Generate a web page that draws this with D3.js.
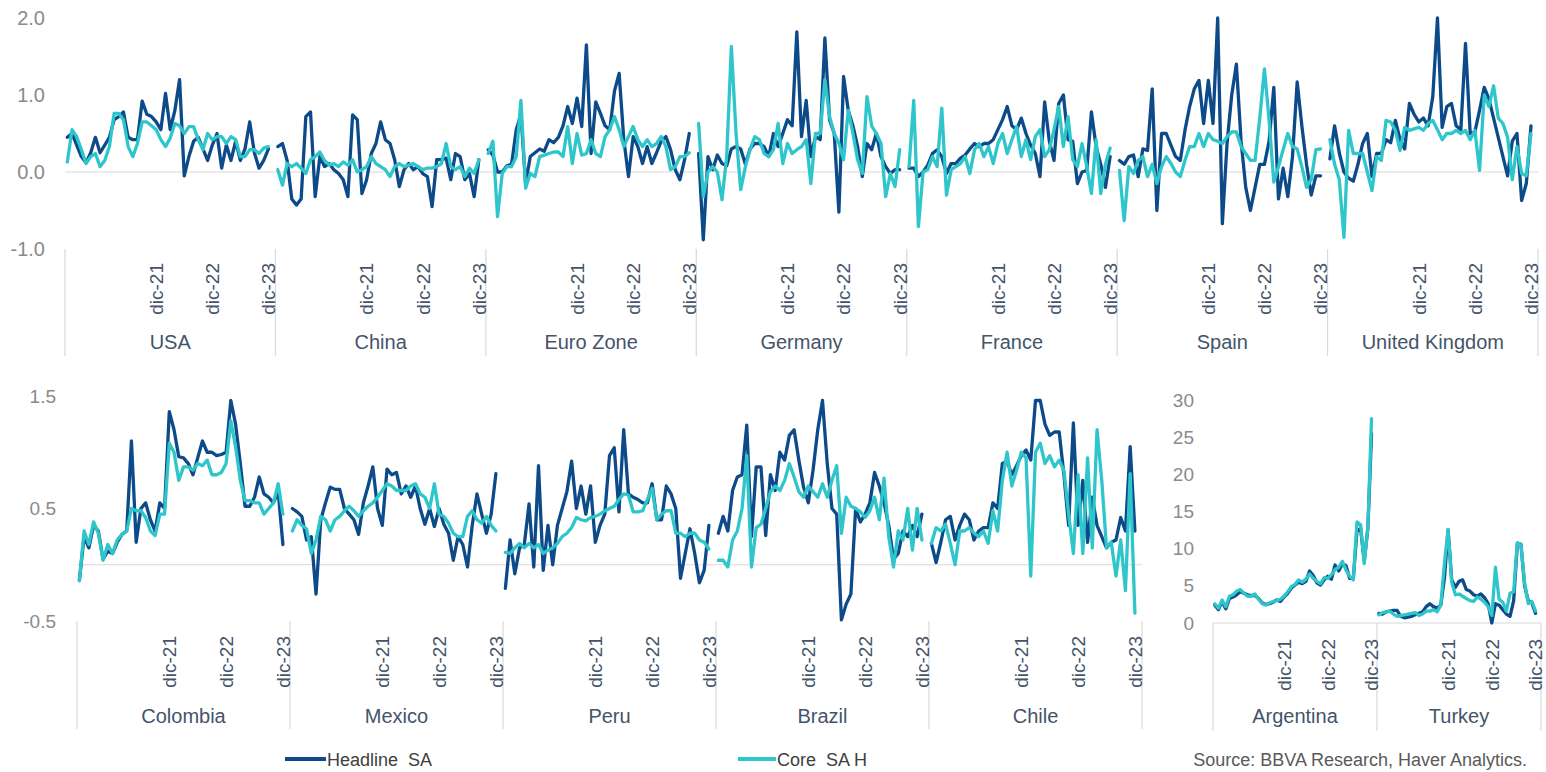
<!DOCTYPE html>
<html><head><meta charset="utf-8">
<script src="https://cdn.jsdelivr.net/npm/d3@7"></script>
<style>html,body{margin:0;padding:0;background:#fff;} svg{display:block;font-family:"Liberation Sans",Arial,Helvetica,sans-serif;}</style>
</head><body><svg id="chart" width="1546" height="772"></svg>
<script>
// ---------- DATA ----------
const months = ["may-20","jun-20","jul-20","ago-20","sep-20","oct-20","nov-20","dic-20",
 "ene-21","feb-21","mar-21","abr-21","may-21","jun-21","jul-21","ago-21","sep-21","oct-21","nov-21","dic-21",
 "ene-22","feb-22","mar-22","abr-22","may-22","jun-22","jul-22","ago-22","sep-22","oct-22","nov-22","dic-22",
 "ene-23","feb-23","mar-23","abr-23","may-23","jun-23","jul-23","ago-23","sep-23","oct-23","nov-23","dic-23"];
const shownTicks = ["dic-21","dic-22","dic-23"];

const topCountries = ["USA","China","Euro Zone","Germany","France","Spain","United Kingdom"];
const latamCountries = ["Colombia","Mexico","Peru","Brazil","Chile"];
const highCountries = ["Argentina","Turkey"];

const topTicks = [2, 1, 0, -1];
const latamTicks = [1.5, 0.5, -0.5];
const highTicks = [0, 5, 10, 15, 20, 25, 30];

const usaHeadline = [0.45,0.50,0.35,0.20,0.12,0.25,0.45,0.25,0.35,0.45,0.68,0.72,0.78,0.45,0.42,0.42,0.92,0.75,0.72,0.65,0.55,1.02,0.55,0.80,1.20,-0.05,0.20,0.40,0.45,0.30,0.15,0.35,0.50,0.05,0.35,0.15,0.40,0.15,0.30,0.65,0.25,0.05,0.15,0.30];
const usaCore = [0.13,0.55,0.46,0.29,0.11,0.20,0.24,0.07,0.15,0.33,0.76,0.76,0.68,0.33,0.20,0.37,0.65,0.65,0.60,0.55,0.42,0.33,0.44,0.63,0.60,0.50,0.59,0.59,0.42,0.29,0.50,0.42,0.46,0.46,0.37,0.46,0.42,0.20,0.20,0.29,0.29,0.24,0.31,0.33];
const chinaHeadline = [0.33,0.37,0.15,-0.35,-0.43,-0.35,0.72,0.78,-0.32,0.20,0.07,0.11,0.03,-0.02,-0.10,-0.32,0.74,0.68,-0.28,-0.10,0.24,0.37,0.65,0.42,0.37,0.16,-0.19,0.03,0.11,0.03,0.07,-0.02,-0.06,-0.45,0.16,0.16,0.18,-0.10,0.24,0.20,-0.10,-0.02,-0.32,0.16];
const chinaCore = [0.03,-0.17,0.11,0.07,0.11,0.05,-0.02,0.16,0.20,0.26,0.15,0.09,0.11,0.07,0.13,0.09,0.16,0.00,0.03,0.07,0.20,0.11,0.07,0.03,-0.06,0.07,0.11,0.07,0.09,0.11,0.07,0.03,0.05,0.05,0.07,0.11,0.37,0.07,0.03,0.07,-0.06,0.05,-0.02,0.16];
const euroHeadline = [0.29,0.22,0.00,0.00,0.08,0.10,0.55,0.75,-0.15,0.20,0.25,0.30,0.27,0.42,0.38,0.45,0.60,0.85,0.63,0.96,0.59,1.65,0.24,0.91,0.76,0.60,0.55,1.05,1.28,0.42,-0.06,0.46,0.33,0.11,0.33,0.11,0.25,0.40,0.46,0.29,0.03,-0.10,0.16,0.50];
const euroCore = [0.24,0.40,-0.58,-0.02,0.07,0.07,0.20,0.93,-0.21,-0.02,-0.06,0.20,0.22,0.24,0.26,0.26,0.20,0.59,0.11,0.50,0.22,0.24,0.42,0.24,0.20,0.46,0.55,0.72,0.55,0.33,0.46,0.59,0.42,0.33,0.42,0.33,0.37,0.46,0.33,0.03,0.07,0.20,0.20,0.25];
const germanyHeadline = [0.24,-0.88,0.20,0.03,0.22,0.11,0.08,0.30,0.33,0.30,0.10,0.30,0.37,0.37,0.33,0.20,0.50,0.33,0.50,0.68,0.60,1.82,0.46,0.93,0.20,0.46,0.42,1.74,0.68,0.50,-0.52,1.24,0.80,0.60,0.33,-0.06,0.37,0.29,0.50,0.20,0.07,-0.02,0.03,0.03];
const germanyCore = [0.63,-0.32,0.00,0.07,0.00,-0.36,0.20,1.63,0.50,-0.23,0.07,0.29,0.46,0.42,0.24,0.20,0.29,0.63,0.11,0.37,0.24,0.29,0.33,0.42,-0.15,0.50,0.50,1.20,0.72,0.50,0.37,0.16,0.80,0.50,0.16,-0.02,0.98,0.60,0.50,0.37,-0.32,-0.02,-0.19,0.29];
const franceHeadline = [0.05,0.05,-0.06,0.00,0.09,0.24,0.29,0.20,-0.02,0.11,0.11,0.18,0.22,0.30,0.37,0.33,0.37,0.37,0.42,0.55,0.68,0.85,0.60,0.55,0.70,0.50,0.35,0.24,-0.06,0.91,0.40,0.15,0.89,1.00,0.42,0.40,-0.15,0.00,0.02,0.78,0.33,0.10,-0.20,0.20];
const franceCore = [0.07,0.93,-0.71,0.00,0.03,0.20,0.07,0.83,-0.30,0.03,0.07,0.11,0.20,-0.02,0.29,0.37,0.20,0.33,0.11,0.37,0.50,0.24,0.42,0.59,0.20,0.42,0.16,0.46,0.55,0.20,0.29,0.55,0.85,0.33,0.72,0.16,0.07,0.37,0.07,-0.28,0.42,-0.28,0.10,0.31];
const spainHeadline = [0.15,0.10,0.20,0.22,-0.06,0.30,0.28,1.08,-0.50,0.50,0.50,0.35,0.20,0.15,0.54,0.85,1.08,1.19,0.63,1.19,0.63,2.00,-0.67,0.37,1.00,1.40,0.40,-0.20,-0.50,-0.20,0.10,0.10,0.40,1.10,-0.35,0.05,-0.32,0.20,1.17,0.60,0.10,-0.30,-0.05,-0.05];
const spainCore = [0.02,-0.63,0.07,-0.02,0.15,0.20,-0.06,0.10,-0.15,0.07,0.20,0.11,0.00,-0.06,0.15,0.33,0.33,0.50,0.33,0.50,0.42,0.40,0.37,0.46,0.52,0.52,0.33,0.24,0.15,0.15,0.70,1.34,0.67,-0.13,0.07,0.29,0.50,0.33,0.30,0.07,-0.20,-0.10,0.29,0.30];
const ukHeadline = [0.17,0.60,0.25,0.00,-0.08,-0.12,0.10,0.37,0.50,-0.06,0.24,0.24,0.42,0.38,0.67,0.42,0.30,0.89,0.75,0.65,0.70,0.60,0.98,2.00,0.58,0.85,0.89,0.60,0.55,1.67,0.50,0.52,0.80,1.10,0.95,0.70,0.45,0.20,-0.05,0.40,0.50,-0.37,-0.15,0.60];
const ukCore = [0.42,0.10,-0.10,-0.85,0.54,0.24,0.24,0.24,0.00,-0.24,0.20,0.15,0.67,0.65,0.54,0.28,0.58,0.54,0.56,0.58,0.54,0.63,0.67,0.55,0.42,0.50,0.50,0.54,0.50,0.54,0.42,0.54,0.02,1.00,0.85,1.12,0.70,0.63,0.45,-0.10,0.33,-0.02,-0.05,0.50];

const colombiaHeadline = [-0.14,0.25,0.15,0.35,0.30,0.05,0.12,0.10,0.20,0.27,0.30,1.10,0.20,0.50,0.55,0.40,0.30,0.55,0.50,1.36,1.20,0.96,0.95,0.90,0.80,0.95,1.10,1.00,1.00,0.97,0.98,1.00,1.46,1.25,0.90,0.52,0.52,0.60,0.78,0.63,0.60,0.55,0.65,0.18];
const colombiaCore = [-0.14,0.30,0.18,0.38,0.28,0.04,0.18,0.10,0.22,0.27,0.30,0.50,0.48,0.48,0.42,0.30,0.26,0.45,0.45,1.08,1.00,0.75,0.87,0.87,0.84,0.90,0.88,0.93,0.80,0.80,0.82,0.90,1.28,1.05,0.75,0.57,0.57,0.55,0.55,0.45,0.50,0.55,0.72,0.45];
const mexicoHeadline = [0.50,0.47,0.43,0.22,0.25,-0.26,0.40,0.55,0.69,0.67,0.67,0.50,0.45,0.40,0.27,0.55,0.70,0.87,0.50,0.35,0.85,0.80,0.82,0.63,0.70,0.60,0.70,0.50,0.36,0.50,0.34,0.50,0.36,0.28,0.04,0.25,0.18,-0.02,0.35,0.63,0.45,0.28,0.45,0.81];
const mexicoCore = [0.30,0.40,0.35,0.32,0.10,0.22,0.43,0.40,0.30,0.40,0.43,0.48,0.52,0.48,0.43,0.48,0.52,0.55,0.60,0.66,0.72,0.70,0.66,0.66,0.66,0.70,0.72,0.63,0.60,0.50,0.72,0.45,0.43,0.37,0.28,0.25,0.25,0.43,0.48,0.40,0.37,0.43,0.35,0.30];
const peruHeadline = [-0.21,0.22,-0.08,0.15,0.18,0.54,-0.02,0.88,-0.05,0.35,0.00,0.35,0.50,0.65,0.92,0.50,0.70,0.45,0.70,0.20,0.35,0.45,0.97,1.04,0.47,1.20,0.63,0.60,0.58,0.55,0.55,0.72,0.40,0.40,0.70,0.63,0.50,-0.12,0.10,0.32,0.10,-0.16,-0.05,0.35];
const peruCore = [0.11,0.10,0.15,0.19,0.15,0.19,0.15,0.18,0.10,0.13,0.15,0.19,0.25,0.28,0.33,0.42,0.40,0.39,0.42,0.43,0.45,0.48,0.50,0.52,0.58,0.63,0.62,0.47,0.47,0.48,0.58,0.68,0.40,0.45,0.48,0.48,0.28,0.28,0.25,0.28,0.28,0.22,0.20,0.14];
const brazilHeadline = [0.28,0.43,0.30,0.66,0.78,0.80,1.24,0.25,0.87,0.87,0.26,0.80,0.66,1.00,0.93,1.15,1.20,0.93,0.69,0.55,0.84,1.20,1.46,0.90,0.50,0.45,-0.49,-0.35,-0.26,0.50,0.38,0.45,0.55,0.82,0.70,0.55,0.35,0.05,0.10,0.30,0.25,0.35,0.25,0.45];
const brazilCore = [0.04,0.04,-0.02,0.22,0.30,0.50,0.97,-0.02,0.33,0.36,0.50,0.65,0.70,0.66,0.75,0.90,0.78,0.65,0.60,0.70,0.65,0.60,0.72,0.60,0.75,0.88,0.28,0.60,0.52,0.50,0.47,0.42,0.48,0.60,0.40,0.77,0.25,-0.02,0.30,0.22,0.50,0.13,0.50,0.22];
const chileHeadline = [0.19,0.02,0.20,0.40,0.43,0.22,0.35,0.45,0.40,0.22,0.30,0.33,0.33,0.55,0.50,0.90,0.92,0.80,0.88,0.97,1.02,0.93,1.46,1.46,1.25,1.15,1.18,1.18,0.80,0.35,1.26,0.35,0.75,0.20,0.60,0.35,0.25,0.15,0.20,0.22,0.42,0.30,1.05,0.30];
const chileCore = [0.19,0.33,0.30,0.36,0.19,0.00,0.30,0.30,0.33,0.28,0.25,0.30,0.19,0.48,0.30,0.75,1.00,0.70,0.84,1.00,0.95,-0.10,1.00,1.08,0.90,0.97,0.87,0.93,0.84,0.45,0.10,0.80,0.10,0.95,0.15,1.20,0.75,0.15,0.20,-0.10,0.22,-0.23,0.81,-0.43];

const argentinaHeadline = [2.4,1.8,2.9,1.9,3.3,3.5,3.8,4.2,4.0,3.8,3.7,3.7,3.3,2.7,2.5,2.6,2.8,3.1,2.9,3.5,4.0,4.7,5.1,5.5,5.3,5.6,7.0,6.4,5.4,5.1,5.8,6.3,5.9,7.8,7.0,8.0,7.7,6.0,6.0,12.4,12.7,8.3,12.8,25.5];
const argentinaCore = [2.6,2.0,3.1,2.2,3.6,3.8,4.3,4.5,4.0,3.6,3.6,3.9,3.2,2.6,2.4,2.7,2.9,3.0,3.2,3.6,4.2,4.9,5.2,5.8,5.5,5.9,6.6,6.0,5.6,5.3,6.1,6.0,6.5,7.2,7.5,8.3,7.1,6.3,5.8,13.6,13.2,8.0,13.0,27.5];
const turkeyHeadline = [1.3,1.2,1.5,1.6,1.7,1.7,0.9,0.7,0.8,0.9,1.1,1.3,1.5,2.2,2.6,2.2,2.0,2.4,6.0,12.5,5.8,4.8,5.6,5.8,4.5,4.3,3.8,3.6,3.9,3.4,2.6,0.0,2.6,2.4,1.8,1.2,0.9,3.0,10.6,10.6,5.0,3.0,2.7,1.3];
const turkeyCore = [1.1,1.4,1.5,1.6,1.2,0.9,1.0,1.1,1.2,1.3,1.4,1.0,1.2,1.6,1.6,1.8,1.5,2.4,8.0,12.6,5.5,3.8,3.9,3.6,3.3,3.0,2.9,3.5,3.2,2.8,2.2,1.0,7.5,3.2,2.8,1.6,4.0,4.2,10.8,10.5,5.4,2.6,2.9,1.6];

const seriesNames = ["Headline  SA", "Core  SA H"];

// ---------- BUILD ----------
const headlineByCountry = {
  "USA": usaHeadline, "China": chinaHeadline, "Euro Zone": euroHeadline, "Germany": germanyHeadline,
  "France": franceHeadline, "Spain": spainHeadline, "United Kingdom": ukHeadline,
  "Colombia": colombiaHeadline, "Mexico": mexicoHeadline, "Peru": peruHeadline, "Brazil": brazilHeadline, "Chile": chileHeadline,
  "Argentina": argentinaHeadline, "Turkey": turkeyHeadline
};
const coreByCountry = {
  "USA": usaCore, "China": chinaCore, "Euro Zone": euroCore, "Germany": germanyCore,
  "France": franceCore, "Spain": spainCore, "United Kingdom": ukCore,
  "Colombia": colombiaCore, "Mexico": mexicoCore, "Peru": peruCore, "Brazil": brazilCore, "Chile": chileCore,
  "Argentina": argentinaCore, "Turkey": turkeyCore
};

const NAVY = "#0c4a89", CYAN = "#2ec6cb", GRID = "#d9d9d9";
const svg = d3.select("#chart");
svg.append("rect").attr("width", 1546).attr("height", 772).attr("fill", "#fff");

function drawPanel(p) {
  const keys = [];
  p.countries.forEach(c => { months.forEach(m => keys.push(c + "|" + m)); keys.push(c + "|gap"); });
  const x = d3.scaleBand().domain(keys).range([p.x0, p.x1]).padding(0);
  const bw = x.bandwidth();
  const cx = k => x(k) + bw / 2;
  const y = d3.scaleLinear().domain(p.yDomain).range([p.yBottom, p.yTop]);
  const g = svg.append("g");

  // zero line
  g.append("line").attr("x1", p.x0).attr("x2", p.x1)
    .attr("y1", y(0)).attr("y2", y(0)).attr("stroke", GRID).attr("stroke-width", 1.2);

  // y labels
  const ya = d3.axisLeft(y).tickValues(p.ticks).tickFormat(p.fmt).tickSize(0).tickPadding(0);
  const yg = g.append("g").attr("transform", `translate(${p.labelRight},0)`).call(ya);
  yg.select(".domain").remove();
  yg.selectAll("text").attr("fill", "#8a8a8a").style("font-size", p.yFont + "px")
    .style("font-family", '"Liberation Sans",Arial,sans-serif');

  // separators
  const seps = p.countries.map(c => x(c + "|" + months[0])).concat([p.x1]);
  g.selectAll(".sep").data(seps).join("line")
    .attr("x1", d => d).attr("x2", d => d).attr("y1", p.yBottom).attr("y2", p.sepBottom)
    .attr("stroke", GRID).attr("stroke-width", 1.2);

  // month tick labels
  const tickKeys = [];
  p.countries.forEach(c => shownTicks.forEach(t => tickKeys.push(c + "|" + t)));
  g.selectAll(".mt").data(tickKeys).join("text")
    .attr("transform", k => `translate(${cx(k)},${p.yBottom + p.tickGap}) rotate(-90)`)
    .attr("text-anchor", "end").attr("dy", "0.36em")
    .attr("fill", "#44546a").style("font-size", "19px")
    .text(k => k.split("|")[1]);

  // country labels
  g.selectAll(".cn").data(p.countries).join("text")
    .attr("x", c => (x(c + "|" + months[0]) + x(c + "|gap") + bw) / 2)
    .attr("y", p.nameY).attr("text-anchor", "middle")
    .attr("fill", "#44546a").style("font-size", "20px")
    .text(c => c);

  // lines
  const line = d3.line().x(d => cx(d.k)).y(d => y(d.v)).curve(d3.curveLinear);
  [[headlineByCountry, NAVY], [coreByCountry, CYAN]].forEach(([src, col]) => {
    p.countries.forEach(c => {
      const pts = src[c].map((v, i) => ({ k: c + "|" + months[i], v }));
      g.append("path").datum(pts).attr("d", line)
        .attr("fill", "none").attr("stroke", col).attr("stroke-width", 3.3)
        .attr("stroke-linejoin", "round").attr("stroke-linecap", "round");
    });
  });
}

const fmt1 = d => d.toFixed(1);
const fmt0 = d => String(d);
drawPanel({ countries: topCountries, x0: 65, x1: 1538, yDomain: [-1, 2], yBottom: 249, yTop: 18,
  ticks: topTicks, fmt: fmt1, labelRight: 45, yFont: 20, sepBottom: 356, tickGap: 14, nameY: 349 });
drawPanel({ countries: latamCountries, x0: 77, x1: 1142, yDomain: [-0.5, 1.5], yBottom: 621, yTop: 396,
  ticks: latamTicks, fmt: fmt1, labelRight: 56, yFont: 19, sepBottom: 729, tickGap: 15, nameY: 723 });
drawPanel({ countries: highCountries, x0: 1213, x1: 1541, yDomain: [0, 30], yBottom: 623, yTop: 400,
  ticks: highTicks, fmt: fmt0, labelRight: 1194, yFont: 19, sepBottom: 731, tickGap: 16, nameY: 723 });

// legend
const legend = [
  { name: seriesNames[0], color: NAVY, x1: 285, x2: 326, tx: 327 },
  { name: seriesNames[1], color: CYAN, x1: 738, x2: 776, tx: 777 }
];
const lg = svg.append("g");
lg.selectAll("line").data(legend).join("line")
  .attr("x1", d => d.x1).attr("x2", d => d.x2).attr("y1", 759).attr("y2", 759)
  .attr("stroke", d => d.color).attr("stroke-width", 4);
lg.selectAll("text").data(legend).join("text")
  .attr("x", d => d.tx).attr("y", 765.5).attr("fill", "#404040")
  .style("font-size", "18px").style("white-space", "pre").text(d => d.name);

svg.append("text").attr("x", 1527).attr("y", 765.5).attr("text-anchor", "end")
  .attr("fill", "#595959").style("font-size", "18px")
  .text("Source: BBVA Research, Haver Analytics.");
</script></body></html>
